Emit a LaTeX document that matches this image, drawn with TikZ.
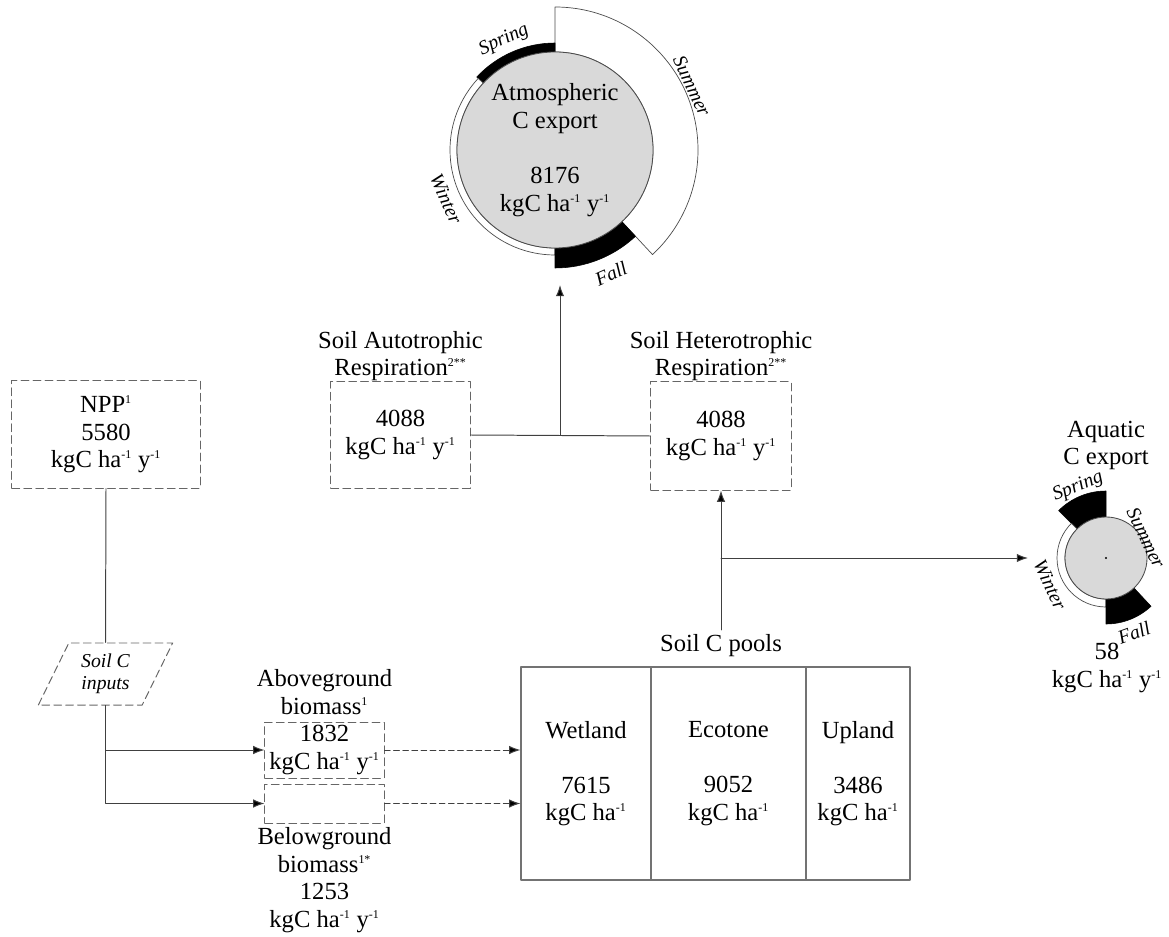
\documentclass[tikz,border=0pt]{standalone}
\usepackage{fontspec}
\setmainfont{Liberation Serif}
\usetikzlibrary{arrows.meta,calc,shapes.geometric}

\newcommand{\sups}[1]{\textsuperscript{\fontsize{8.5}{8.5}\selectfont #1}}
\newcommand{\fluxunit}{kgC ha\sups{-1} y\sups{-1}}
\newcommand{\poolunit}{kgC ha\sups{-1}}
% season band round a centre: centre, start, end, inner r, outer r, style
\newcommand{\seasonband}[6]{%
  \draw[#6] ($(#1)+(#2:#4)$) arc[start angle=#2, end angle=#3, radius=#4]
    -- ($(#1)+(#3:#5)$) arc[start angle=#3, end angle=#2, radius=#5] -- cycle;}

\tikzset{
  txt/.style={font=\fontsize{17.5}{19.6}\selectfont, align=center},
  season/.style={font=\fontsize{14}{15}\selectfont\itshape, inner sep=0pt},
  dashbox/.style={draw=black!60, dash pattern=on 5.5pt off 3pt, line width=0.7pt, txt, inner sep=0pt},
  poolbox/.style={draw=black!55, line width=0.8pt, txt, minimum height=5.325cm, inner sep=0pt},
  link/.style={draw=black!75, line width=0.7pt},
  flow/.style={link, -{Latex[length=8pt,width=6pt,fill=black]}},
  dflow/.style={flow, dash pattern=on 4pt off 2.5pt},
  band/.style={fill=black, draw=black, line width=0.4pt},
  ring/.style={fill=white, draw=black!70, line width=0.5pt},
}

\begin{document}
\begin{tikzpicture}[x=0.025cm, y=0.025cm, line cap=round, line join=round]
\useasboundingbox (0,0) rectangle (1169,-937);

% --- Atmospheric C export (season bands round it) ---
\coordinate (atmc) at (555,-150);
\seasonband{atmc}{-47}{90}{98}{143}{ring}
\seasonband{atmc}{90}{137}{98}{107}{band}
\seasonband{atmc}{137}{270}{98}{105}{ring}
\seasonband{atmc}{270}{313}{98}{118}{band}
\node[circle, fill=black!15, draw=black!70, line width=0.6pt, minimum size=4.9cm, inner sep=0pt, txt] (atm) at (atmc)
  {Atmospheric\\C export\\[19.6pt]8176\\\fluxunit};
\node[season, rotate=25]  (atmspring) at (504,-40)  {Spring};
\node[season, rotate=-65] (atmsummer) at (692,-86)  {Summer};
\node[season, rotate=-66] (atmwinter) at (446,-199) {Winter};
\node[season, rotate=24]  (atmfall)   at (611,-274) {Fall};
\coordinate (atmin) at (560,-285);

% --- Respiration boxes ---
\node[txt] (autolbl) at (400.5,-356) {Soil Autotrophic\\Respiration\sups{2**}};
\node[dashbox, minimum width=3.475cm, minimum height=2.65cm] (auto) at (400.5,-435) {4088\\\fluxunit};
\node[txt] (hetlbl) at (721,-356) {Soil Heterotrophic\\Respiration\sups{2**}};
\node[dashbox, minimum width=3.5cm, minimum height=2.7cm] (het) at (721,-436) {4088\\\fluxunit};

% --- NPP and soil C inputs ---
\node[dashbox, minimum width=4.7cm, minimum height=2.675cm] (npp) at (106,-434.5) {NPP\sups{1}\\5580\\\fluxunit};
\node[trapezium, trapezium left angle=63, trapezium right angle=117, trapezium stretches=true,
      minimum width=3.375cm, minimum height=1.55cm, draw=black!60, dash pattern=on 5.5pt off 3pt,
      line width=0.7pt, font=\fontsize{14}{15.5}\selectfont\itshape, align=center, inner sep=0pt]
  (inputs) at (105.5,-674) {Soil C\\inputs};

% --- Biomass ---
\node[txt] (abovelbl) at (324.5,-692) {Aboveground\\biomass\sups{1}};
\node[dashbox, minimum width=2.975cm, minimum height=1.4cm] (above) at (324.5,-750) {1832\\\fluxunit};
\node[dashbox, minimum width=2.975cm, minimum height=0.975cm] (below) at (324.5,-803.5) {};
\node[txt] (belowlbl) at (324.5,-880) {Belowground\\biomass\sups{1*}\\1253\\\fluxunit};

% --- Soil C pools ---
\node[txt] (poolslbl) at (721,-646) {Soil C pools};
\node[poolbox, minimum width=3.25cm]  (wet) at (586,-773.5)   {Wetland\\[19.6pt]7615\\\poolunit};
\node[poolbox, minimum width=3.875cm] (eco) at (728.5,-773.5) {Ecotone\\[19.6pt]9052\\\poolunit};
\node[poolbox, minimum width=2.6cm]   (up)  at (858,-773.5)   {Upland\\[19.6pt]3486\\\poolunit};

% --- Aquatic C export ---
\coordinate (aqc) at (1106,-558);
\seasonband{aqc}{90}{135}{41}{67}{band}
\seasonband{aqc}{135}{270}{41}{49}{ring}
\seasonband{aqc}{270}{313}{41}{66}{band}
\node[circle, fill=black!15, draw=black!70, line width=0.6pt, minimum size=2.05cm, inner sep=0pt] (aq) at (aqc) {};
\fill (aqc) circle (1.2);
\node[txt] (aqlbl) at (1106,-445.5) {Aquatic\\C export};
\node[txt] (aqval) at (1107,-668) {58\\\fluxunit};
\node[season, rotate=22]  (aqspring) at (1078,-487) {Spring};
\node[season, rotate=-64] (aqsummer) at (1146,-538) {Summer};
\node[season, rotate=-65] (aqwinter) at (1050,-585) {Winter};
\node[season, rotate=20]  (aqfall)   at (1134,-633) {Fall};
\coordinate (aqin) at (1028,-558);

% --- Connectors ---
\draw[link] (npp.south) -- (inputs.north);
\draw[flow] (inputs.south) |- (above.west);
\draw[flow] (inputs.south) |- (below.west);
\draw[dflow] (above.east) -- (above.east -| wet.west);
\draw[dflow] (below.east) -- (below.east -| wet.west);
\draw[flow] (poolslbl.north) -- (het.south);
\draw[flow] (poolslbl.north |- aqin) -- (aqin);
\draw[link] (auto.east) -- (het.west);
\draw[flow] (auto.east -| atmin) -- (atmin);

\end{tikzpicture}
\end{document}
